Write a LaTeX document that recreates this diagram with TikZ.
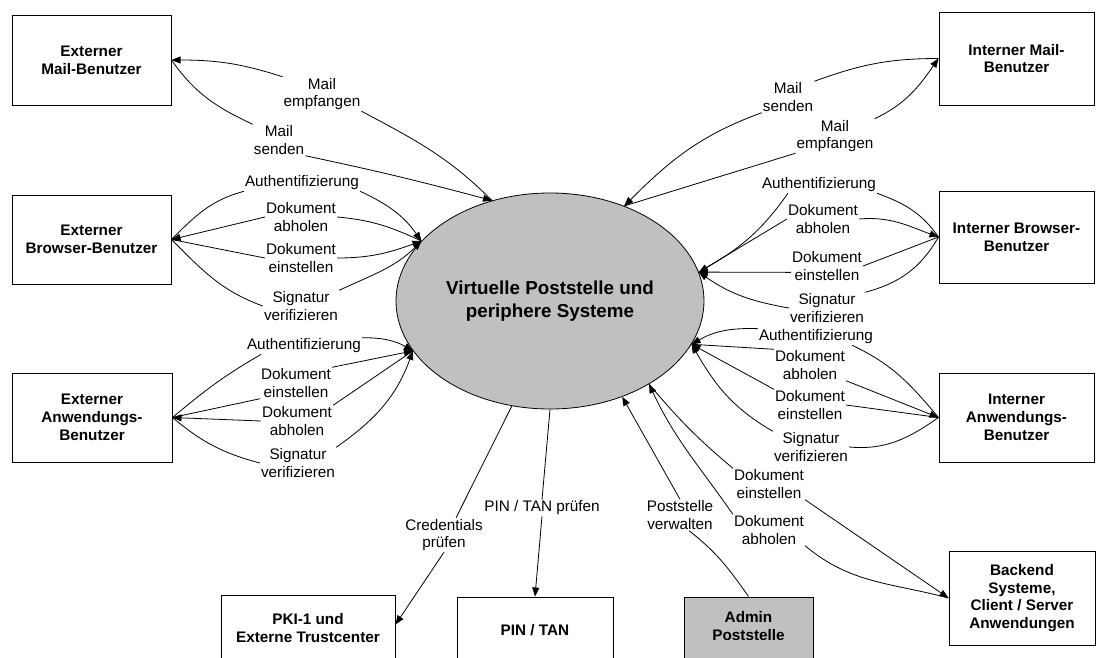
\documentclass[tikz,border=0pt]{standalone}
\usepackage{fontspec}
\setmainfont{Liberation Sans}
\usetikzlibrary{arrows.meta,shapes.geometric}
\definecolor{grayc}{RGB}{192,192,192}
\begin{document}
\begin{tikzpicture}[x=1pt,y=1pt,
  box/.style={draw, line width=1pt, align=center, font=\fontsize{15.3}{17.8}\selectfont\bfseries, inner sep=0pt},
  lab/.style={align=center, font=\fontsize{15.3}{17.8}\selectfont, inner sep=1pt},
  con/.style={line width=0.8pt},
  arr/.style={con, -{Triangle[length=9pt,width=7pt]}},
]
\useasboundingbox (0,0) rectangle (1096,-657);

% central ellipse
\node[ellipse, draw, fill=grayc, line width=0.8pt, minimum width=308pt, minimum height=216pt, inner sep=0pt, align=center, font=\fontsize{18.8}{23}\selectfont\bfseries] (V) at (550,-301) {Virtuelle Poststelle und\\periphere Systeme};

% boxes
\node[box, minimum width=159pt, minimum height=90pt] (EM) at (91.5,-60) {Externer\\Mail-Benutzer};
\node[box, minimum width=155pt, minimum height=93pt] (IM) at (1016.5,-58.5) {Interner Mail-\\Benutzer};
\node[box, minimum width=159pt, minimum height=89pt] (EB) at (91.5,-239.5) {Externer\\Browser-Benutzer};
\node[box, minimum width=155pt, minimum height=92pt] (IB) at (1016.5,-237) {Interner Browser-\\Benutzer};
\node[box, minimum width=160pt, minimum height=89pt] (EA) at (92,-417.5) {Externer\\Anwendungs-\\Benutzer};
\node[box, minimum width=155pt, minimum height=89pt] (IA) at (1016.5,-417.5) {Interner\\Anwendungs-\\Benutzer};
\node[box, minimum width=174pt, minimum height=84pt] (PKI) at (308,-637) {PKI-1 und\\Externe Trustcenter\\~};
\node[box, minimum width=156pt, minimum height=84pt] (PIN) at (535,-639) {PIN / TAN\\~};
\node[box, fill=grayc, minimum width=129pt, minimum height=76pt] (ADM) at (748.5,-635) {Admin\\Poststelle\\~};
\node[box, minimum width=146pt, minimum height=94pt] (BE) at (1022,-598) {Backend\\Systeme,\\Client / Server\\Anwendungen};

% Externer Mail-Benutzer
\node[lab] (L1) at (322,-94) {Mail\\empfangen};
\node[lab] (L2) at (279,-140) {Mail\\senden};
\draw[con] (V.120) to[out=135,in=-28] (L1.south east);
\draw[arr] (L1.north west) to[out=162,in=0] (EM.east);
\draw[con] (EM.east) to[out=-55,in=155] (L2.north west);
\draw[arr] (L2.south east) to[out=-12,in=165] (V.120);

% Externer Browser-Benutzer
\node[lab] (A1) at (302,-183) {Authentifizierung};
\node[lab] (A2) at (301,-217) {Dokument\\abholen};
\node[lab] (A3) at (301,-258) {Dokument\\einstellen};
\node[lab] (A4) at (301,-306) {Signatur\\verifizieren};
\draw[con] (EB.east) to[out=45,in=-165] (A1.south west);
\draw[arr] (A1.south east) to[out=-25,in=125] (V.155);
\draw[con] (V.155) to[out=155,in=-5] (A2.east);
\draw[arr] (A2.west) -- (EB.east);
\draw[con] (EB.east) -- (A3.west);
\draw[arr] (A3.east) to[out=0,in=-160] (V.155);
\draw[con] (EB.east) to[out=-45,in=160] (A4.west);
\draw[arr] (A4.north east) to[out=25,in=-135] (V.155);

% Externer Anwendungs-Benutzer
\node[lab] (B1) at (304,-346) {Authentifizierung};
\node[lab] (B2) at (296,-383) {Dokument\\einstellen};
\node[lab] (B3) at (297,-421) {Dokument\\abholen};
\node[lab] (B4) at (298,-463) {Signatur\\verifizieren};
\draw[con] (EA.east) to[out=40,in=-150] (B1.191);
\draw[arr] (B1.north east) to[out=0,in=150] (V.200);
\draw[con] (EA.east) -- (B2.south west);
\draw[arr] (B2.north east) -- (V.200);
\draw[con] (V.200) -- (B3.north east);
\draw[arr] (B3.west) -- (EA.east);
\draw[con] (EA.east) to[out=-40,in=165] (B4.west);
\draw[arr] (B4.north east) to[out=35,in=-110] (V.200);

% Interner Mail-Benutzer
\node[lab] (C1) at (788,-97) {Mail\\senden};
\node[lab] (C2) at (835,-136) {Mail\\empfangen};
\draw[con] (IM.west) to[out=180,in=20] (C1.north east);
\draw[arr] (C1.south west) to[out=-160,in=45] (V.52);
\draw[con] (V.52) -- (C2.south west);
\draw[arr] (C2.north east) to[out=25,in=-125] (IM.west);

% Interner Browser-Benutzer
\node[lab] (D1) at (819,-185) {Authentifizierung};
\node[lab] (D2) at (823,-219) {Dokument\\abholen};
\node[lab] (D3) at (827,-266) {Dokument\\einstellen};
\node[lab] (D4) at (827,-308) {Signatur\\verifizieren};
\draw[con] (IB.west) to[out=125,in=-20] (D1.south east);
\draw[arr] (D1.195) to[out=-125,in=30] (V.11);
\draw[con] (V.11) -- (D2.west);
\draw[arr] (D2.east) to[out=5,in=160] (IB.west);
\draw[con] (IB.west) -- (D3.east);
\draw[arr] (D3.190) -- (V.11);
\draw[con] (IB.west) to[out=-120,in=15] (D4.north east);
\draw[arr] (D4.west) to[out=170,in=-35] (V.11);

% Interner Anwendungs-Benutzer
\node[lab] (E1) at (816,-337) {Authentifizierung};
\node[lab] (E2) at (810,-365) {Dokument\\abholen};
\node[lab] (E3) at (810,-405) {Dokument\\einstellen};
\node[lab] (E4) at (811,-447) {Signatur\\verifizieren};
\draw[con] (IA.west) to[out=130,in=-25] (E1.-13);
\draw[arr] (E1.north west) to[out=178,in=30] (V.343);
\draw[con] (V.343) -- (E2.north west);
\draw[arr] (E2.south east) -- (IA.west);
\draw[con] (IA.west) -- (E3.east);
\draw[arr] (E3.north west) -- (V.343);
\draw[con] (IA.west) to[out=-145,in=-5] (E4.east);
\draw[arr] (E4.north west) to[out=150,in=-60] (V.343);

% Backend
\node[lab] (F1) at (769,-484) {Dokument\\einstellen};
\node[lab] (F2) at (769,-530) {Dokument\\abholen};
\draw[con] (V.320) to[out=-50,in=140] (F1.north west);
\draw[arr] (F1.south east) -- (BE.west);
\draw[con] (BE.west) to[out=165,in=-40] (F2.south east);
\draw[arr] (F2.north west) to[out=125,in=-65] (V.320);

% bottom
\node[lab] (G1) at (444,-535) {Credentials\\prüfen};
\node[lab] (H1) at (542,-508) {PIN / TAN prüfen};
\node[lab] (J1) at (680,-515) {Poststelle\\verwalten};
\draw[con] (V.250) -- (G1.55);
\draw[arr] (G1.south) -- ([yshift=-30pt]PKI.north east);
\draw[con] (V.south) -- (H1.north);
\draw[arr] (H1.south) -- (PIN.north);
\draw[arr] (J1.north) -- (V.307);
\draw[con] (ADM.north) to[out=125,in=-38] (J1.-60);
\end{tikzpicture}
\end{document}
